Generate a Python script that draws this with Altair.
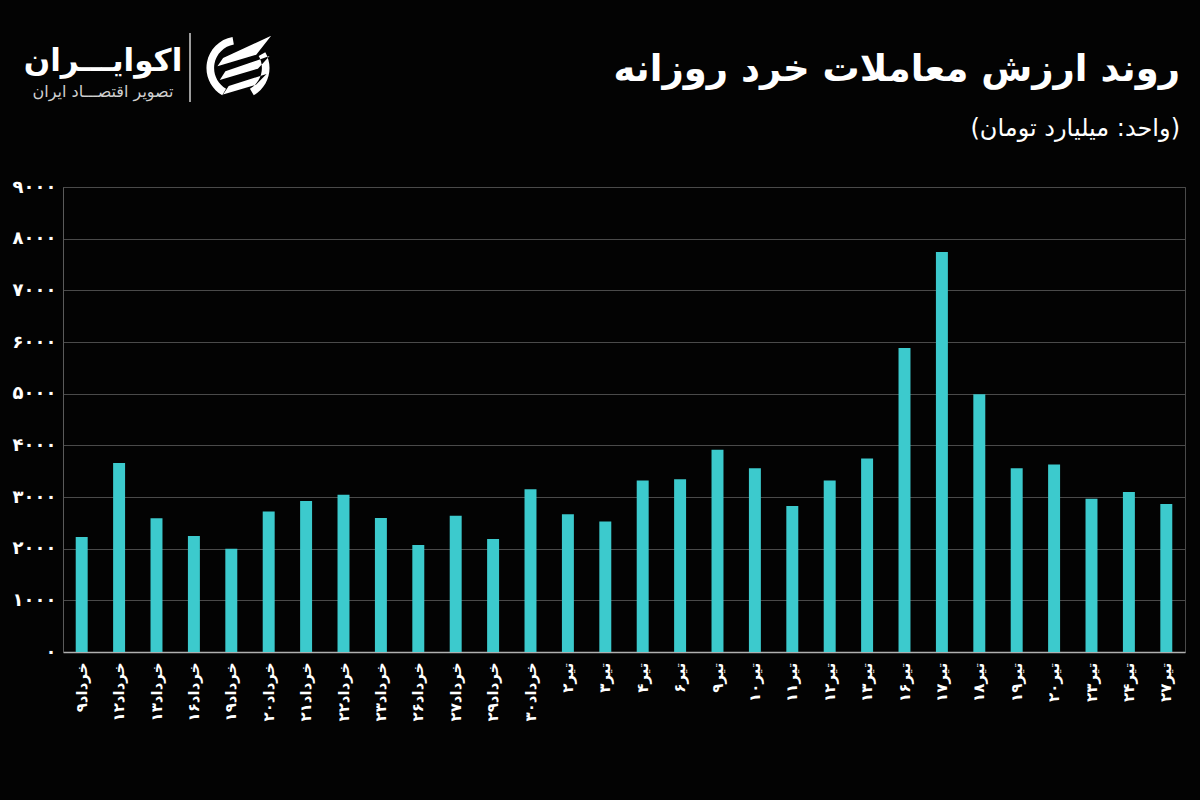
import json
import altair as alt
import pandas as pd

# ---- data ----
days = ["خرداد۹", "خرداد۱۲", "خرداد۱۳", "خرداد۱۶", "خرداد۱۹", "خرداد۲۰", "خرداد۲۱",
        "خرداد۲۲", "خرداد۲۳", "خرداد۲۶", "خرداد۲۷", "خرداد۲۹", "خرداد۳۰",
        "تیر۲", "تیر۳", "تیر۴", "تیر۶", "تیر۹", "تیر۱۰", "تیر۱۱", "تیر۱۲", "تیر۱۳",
        "تیر۱۶", "تیر۱۷", "تیر۱۸", "تیر۱۹", "تیر۲۰", "تیر۲۳", "تیر۲۴", "تیر۲۷"]
values = [2225, 3660, 2590, 2245, 2000, 2720, 2925, 3045, 2595, 2070, 2635, 2185, 3150,
          2665, 2525, 3320, 3345, 3915, 3555, 2825, 3320, 3745, 5885, 7740, 4990,
          3555, 3630, 2965, 3095, 2865]
y_tick_values = [0, 1000, 2000, 3000, 4000, 5000, 6000, 7000, 8000, 9000]
y_tick_labels = ["۰", "۱۰۰۰", "۲۰۰۰", "۳۰۰۰", "۴۰۰۰", "۵۰۰۰", "۶۰۰۰", "۷۰۰۰", "۸۰۰۰", "۹۰۰۰"]

title_text = "روند ارزش معاملات خرد روزانه"
subtitle_text = "(واحد: میلیارد تومان)"
brand_text = "اکوایـــران"
brand_sub = "تصویر اقتصـــاد ایران"

FONT = "DejaVu Sans"
BAR = "#3ccacd"

df = pd.DataFrame({"day": days, "value": values})
one = pd.DataFrame({"k": [0]})

W, H = 1122, 465

bars = alt.Chart(df).mark_bar(color=BAR).encode(
    x=alt.X("day:N", sort=None, title=None,
            scale=alt.Scale(paddingInner=0.68, paddingOuter=0.34),
            axis=alt.Axis(labelAngle=-90, labelPadding=10, ticks=False,
                          domainColor="#b0b0b0", domainWidth=1.5,
                          labelColor="#ffffff", labelFont=FONT, labelFontSize=15,
                          labelFontWeight="bold")),
    y=alt.Y("value:Q", title=None,
            scale=alt.Scale(domain=[0, 9000], nice=False),
            axis=alt.Axis(values=y_tick_values, ticks=False, labelPadding=7,
                          labelExpr=json.dumps(y_tick_labels, ensure_ascii=False) + "[round(datum.value/1000)]",
                          gridColor="#4a4a4a", gridWidth=1, domainColor="#5a5a5a",
                          labelColor="#ffffff", labelFont=FONT, labelFontSize=18,
                          labelFontWeight="bold")),
)

title = alt.Chart(one).mark_text(text=title_text, font=FONT, fontSize=37, fontWeight="bold",
                                 color="#ffffff", align="right", baseline="middle").encode(
    x=alt.value(1117), y=alt.value(-117))
subtitle = alt.Chart(one).mark_text(text=subtitle_text, font=FONT, fontSize=24,
                                    color="#ffffff", align="right", baseline="middle").encode(
    x=alt.value(1117), y=alt.value(-58))

brand = alt.Chart(one).mark_text(text=brand_text, font=FONT, fontSize=31, fontWeight="bold",
                                 color="#ffffff", align="center", baseline="middle").encode(
    x=alt.value(40), y=alt.value(-125))
brand2 = alt.Chart(one).mark_text(text=brand_sub, font=FONT, fontSize=16,
                                  color="#d0d0d0", align="center", baseline="middle").encode(
    x=alt.value(40), y=alt.value(-95))
divider = alt.Chart(one).mark_rule(color="#d0d0d0", strokeWidth=1.5).encode(
    x=alt.value(127), y=alt.value(-154), y2=alt.value(-85))

logo_path = (
    "M -0.165 -0.936 A 0.95 0.95 0 0 0 -0.475 0.823 L -0.36 0.624 A 0.72 0.72 0 0 1 -0.125 -0.709 Z "
    "M 0.475 0.823 A 0.95 0.95 0 0 0 0.823 -0.475 L 0.624 -0.36 A 0.72 0.72 0 0 1 0.36 0.624 Z "
    "M -0.62 -0.05 L -0.45 -0.30 L 1.0 -0.97 L 0.55 -0.40 Z "
    "M -0.55 0.36 L -0.38 0.10 L 0.95 -0.36 L 0.60 0.02 Z "
    "M -0.45 0.80 L -0.28 0.54 L 0.86 0.18 L 0.55 0.50 Z"
)
logo = alt.Chart(one).mark_point(shape=logo_path, filled=True, color="#ffffff",
                                 opacity=1, size=4400, strokeWidth=0).encode(
    x=alt.value(175), y=alt.value(-119))

chart = alt.layer(bars, title, subtitle, brand, brand2, divider, logo).properties(
    width=W, height=H,
    background="#030303",
    padding={"left": 63, "top": 187, "right": 15, "bottom": 148},
    autosize=alt.AutoSizeParams(type="none"),
).configure_view(stroke="#4a4a4a", strokeWidth=1)

chart.save("out.html", embed_options={"renderer": "svg", "actions": False})
